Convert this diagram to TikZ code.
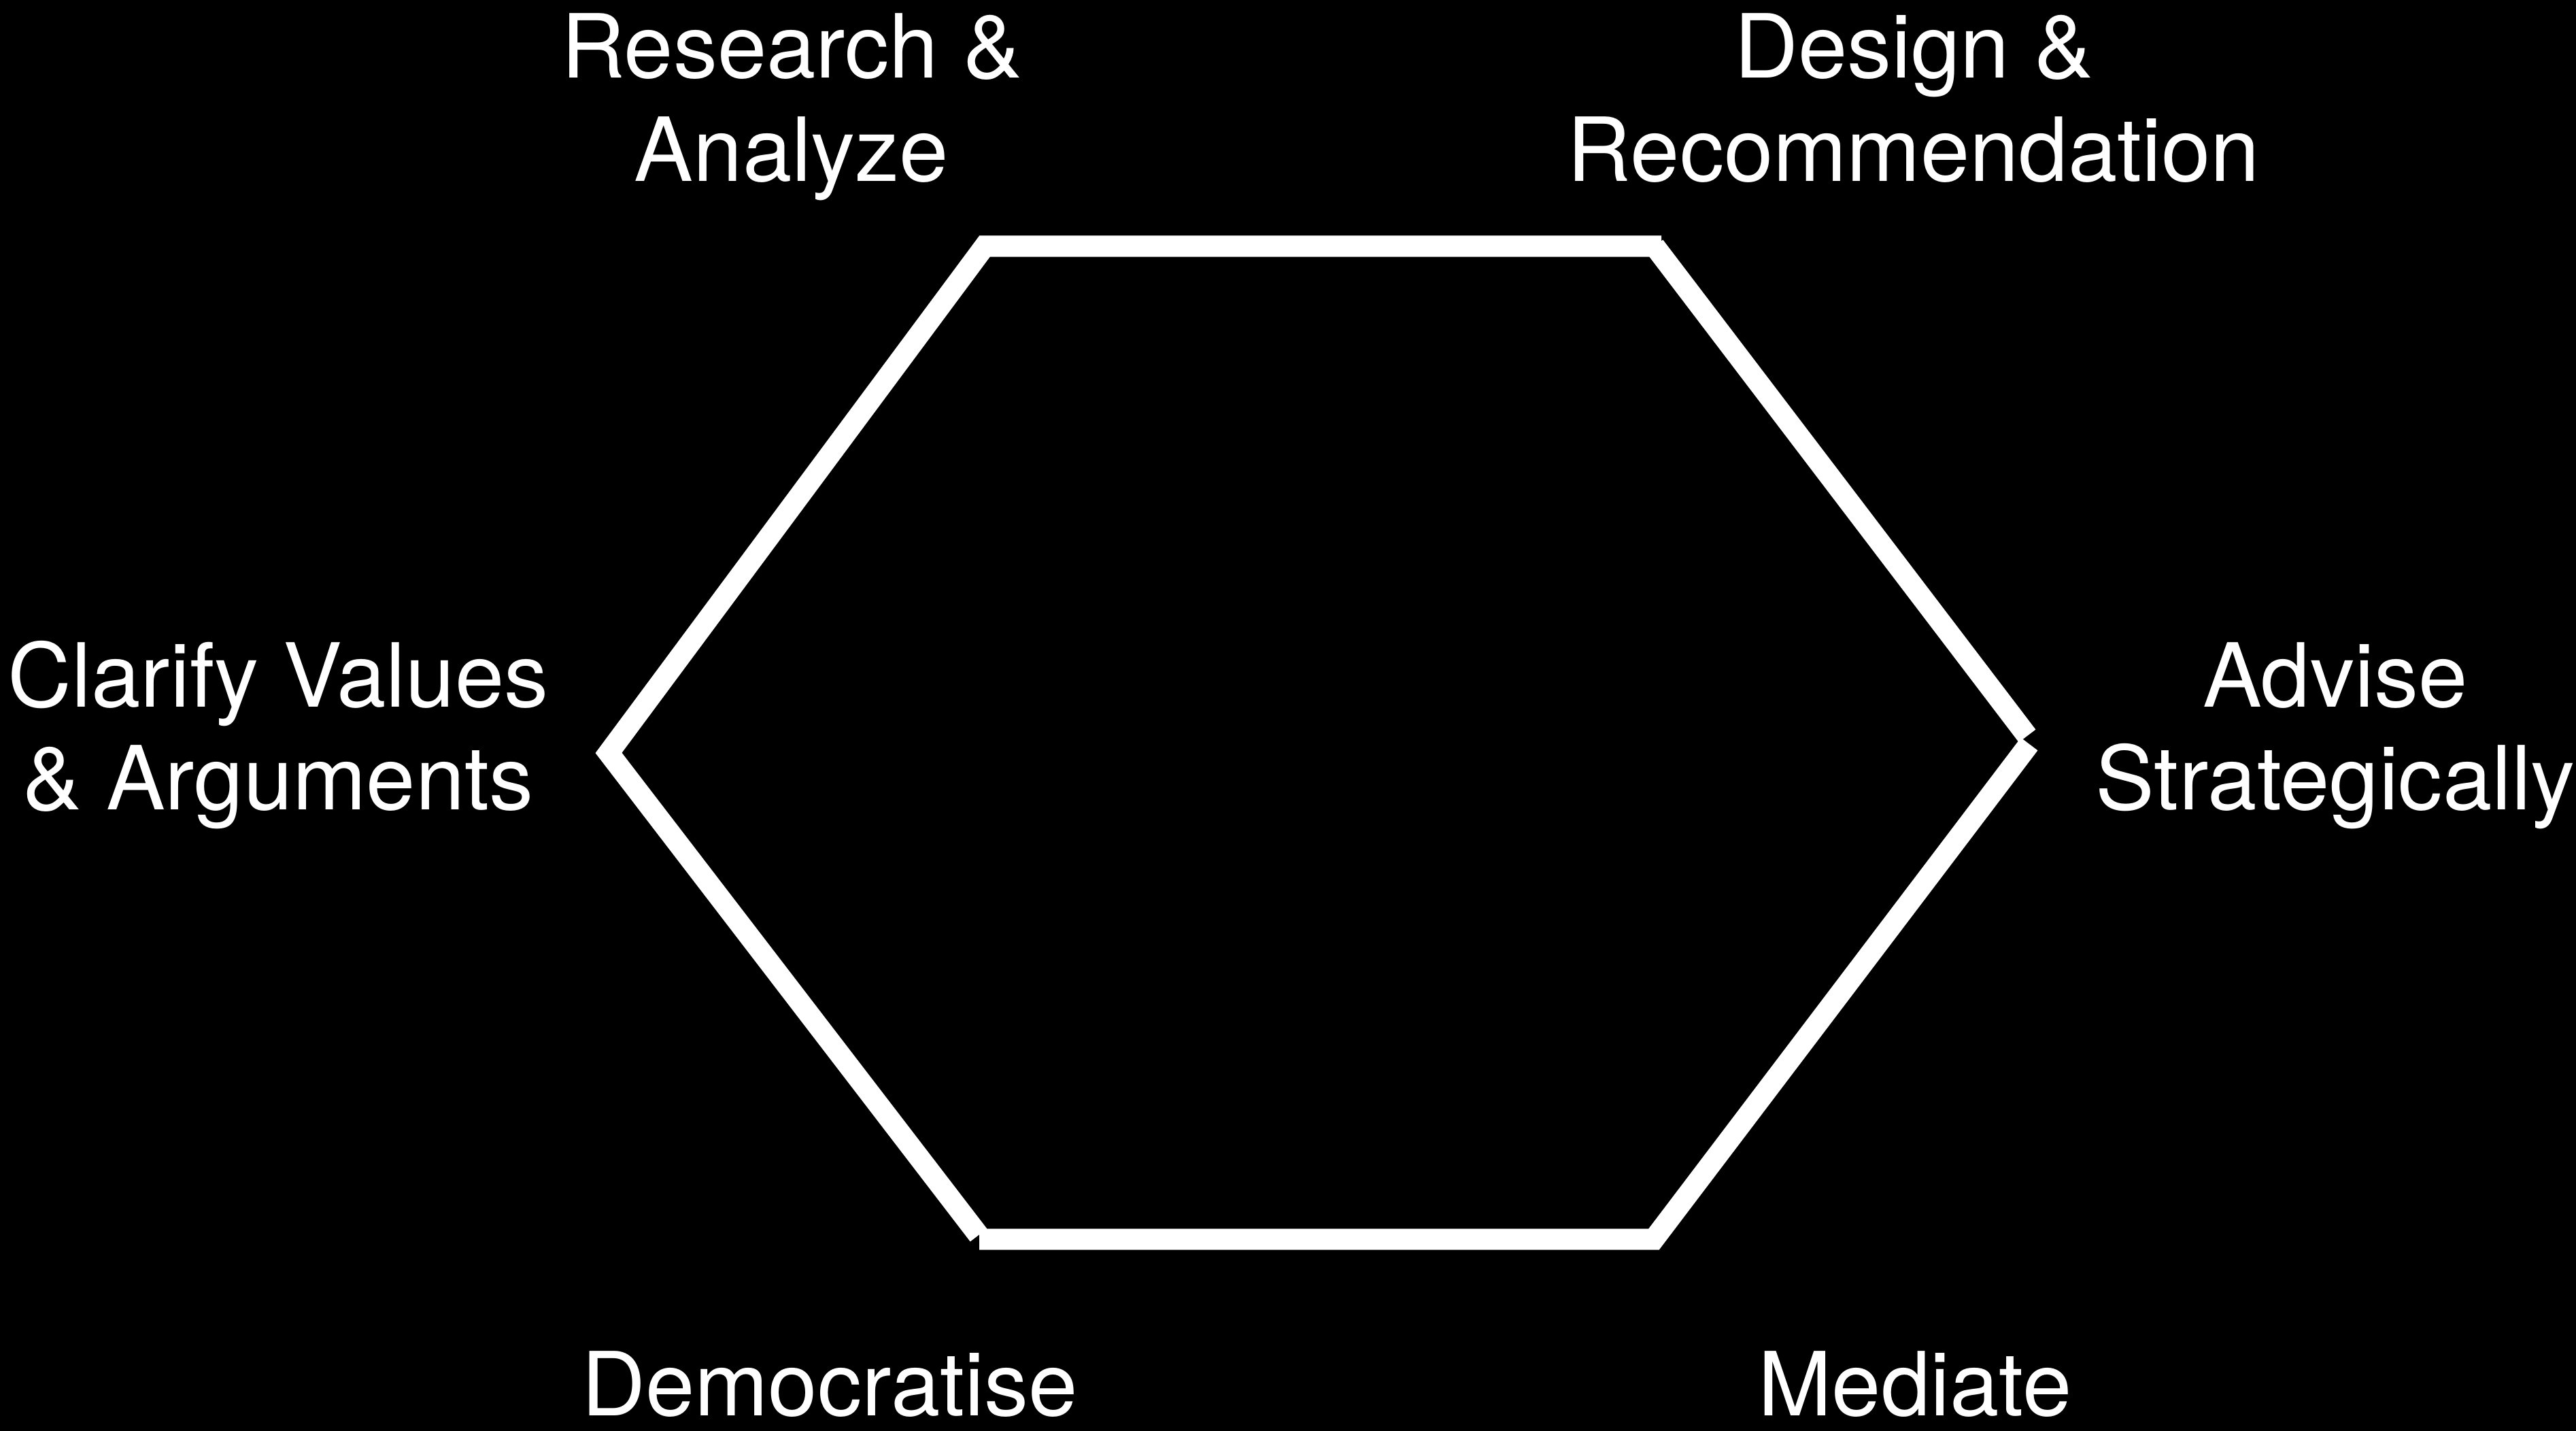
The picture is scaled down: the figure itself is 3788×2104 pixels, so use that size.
\documentclass[tikz,border=0pt]{standalone}
\usepackage{fontspec}
\setmainfont{TeX Gyre Heros}
\begin{document}
\begin{tikzpicture}[x=0.01cm,y=-0.01cm,
  edge/.style={draw=white,line width=3.1mm,line cap=butt,line join=miter},
  lbl/.style={text=white,inner sep=0pt,anchor=base,font=\fontsize{37pt}{43pt}\selectfont}]
\fill[black] (0,0) rectangle (3788,2104);
\useasboundingbox (0,0) rectangle (3788,2104);
% hexagon corner points
\coordinate (tr0) at (2443,362);
\coordinate (tr) at (2433,362);
\coordinate (tl) at (1448,362);
\coordinate (l) at (895,1107);
\coordinate (bl) at (1439,1816);
\coordinate (bl0) at (1440,1822);
\coordinate (br) at (2432,1822);
\coordinate (r1) at (2981,1082);
\coordinate (r2) at (2984,1094);
% sides
\draw[edge] (tr0) -- (tl) -- (l) -- (bl);
\draw[edge] (bl0) -- (br) -- (r2);
\draw[edge] (tr) -- (r1);
% labels
\node[lbl] (ra) at (1164,115) {\begin{tabular}[t]{@{}c@{}}Research \&\\Analyze\end{tabular}};
\node[lbl] (dr) at (2814,115) {\begin{tabular}[t]{@{}c@{}}Design \&\\Recommendation\end{tabular}};
\node[lbl] (cv) at (409,1039) {\begin{tabular}[t]{@{}c@{}}Clarify Values\\\& Arguments\end{tabular}};
\node[lbl] (as) at (3434,1039) {\begin{tabular}[t]{@{}c@{}}Advise\\Strategically\end{tabular}};
\node[lbl] (dm) at (1220,2081) {Democratise};
\node[lbl] (md) at (2816,2081) {Mediate};
\end{tikzpicture}
\end{document}
